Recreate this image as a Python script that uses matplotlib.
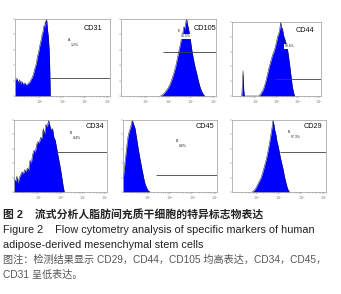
import numpy as np
import matplotlib
matplotlib.use("Agg")
import matplotlib.pyplot as plt
from matplotlib.ticker import FixedLocator

plt.rcParams['font.family'] = ['Liberation Sans', 'Noto Sans CJK SC', 'DejaVu Sans']

# histogram data: x in log10 decades, y as % of max count
cd31_x = [-0.1, -0.02, 0.05, 0.1, 0.15, 0.2, 0.27, 0.33, 0.4, 0.47, 0.55, 0.6, 0.66, 0.72, 0.78, 0.84,
          0.9, 0.95, 1.0, 1.05, 1.1, 1.14, 1.18, 1.21, 1.24, 1.27, 1.3, 1.33, 1.37, 1.41, 1.44, 1.46]
cd31_y = [20, 23, 17, 21, 16, 19, 15, 17, 14, 16, 18, 21, 24, 29, 36, 42,
          52, 58, 66, 72, 80, 84, 91, 89, 97, 93, 100, 88, 78, 60, 30, 0]

cd105_x = [1.65, 1.75, 1.85, 1.95, 2.05, 2.15, 2.25, 2.33, 2.4, 2.47, 2.53, 2.58, 2.63, 2.68, 2.72,
           2.76, 2.8, 2.84, 2.88, 2.93, 2.98, 3.04, 3.1, 3.17, 3.24, 3.31, 3.38, 3.45, 3.52, 3.6]
cd105_y = [0, 2, 5, 9, 14, 22, 31, 40, 50, 60, 68, 76, 82, 90, 87,
           95, 100, 93, 88, 80, 70, 58, 48, 38, 30, 21, 13, 7, 3, 0]

cd44_x = [0.36, 0.39, 0.42, 0.45, 0.48, 1.18, 1.28, 1.38, 1.48, 1.58, 1.66, 1.74, 1.82, 1.88, 1.94,
          2.0, 2.05, 2.1, 2.15, 2.2, 2.24, 2.28, 2.33, 2.38, 2.44, 2.5, 2.56, 2.62, 2.68, 2.74, 2.8, 2.86]
cd44_y = [0, 15, 34, 10, 0, 0, 4, 9, 18, 30, 40, 48, 56, 60, 66,
          73, 80, 84, 90, 100, 88, 92, 82, 78, 72, 66, 55, 42, 28, 14, 5, 0]

cd34_x = [-0.1, -0.03, 0.03, 0.08, 0.14, 0.2, 0.26, 0.32, 0.38, 0.44, 0.5, 0.56, 0.62, 0.68, 0.74,
          0.8, 0.86, 0.92, 0.98, 1.04, 1.1, 1.16, 1.22, 1.28, 1.34, 1.4, 1.46, 1.52, 1.58, 1.64,
          1.7, 1.76, 1.82, 1.88, 1.94, 2.0, 2.06, 2.12, 2.17]
cd34_y = [19, 14, 22, 12, 20, 24, 28, 25, 31, 28, 33, 30, 44, 40, 52,
          58, 55, 66, 70, 68, 76, 74, 88, 80, 94, 90, 100, 92, 86, 88,
          76, 72, 62, 52, 42, 32, 20, 8, 0]

cd45_x = [-0.1, -0.05, 0.0, 0.04, 0.08, 0.12, 0.16, 0.2, 0.24, 0.28, 0.32, 0.36, 0.4, 0.44,
          0.48, 0.52, 0.57, 0.62, 0.67, 0.72, 0.77, 0.82, 0.88, 0.94, 1.0, 1.06, 1.11]
cd45_y = [16, 30, 44, 55, 66, 76, 82, 86, 90, 96, 100, 95, 92, 88,
          80, 72, 62, 53, 44, 36, 28, 20, 12, 7, 3, 1, 0]

cd29_x = [0.8, 0.88, 0.96, 1.04, 1.12, 1.2, 1.28, 1.35, 1.42, 1.48, 1.54, 1.6, 1.65, 1.69, 1.73,
          1.77, 1.81, 1.86, 1.91, 1.96, 2.01, 2.06, 2.12, 2.18, 2.24, 2.3, 2.36, 2.42, 2.47]
cd29_y = [0, 2, 5, 10, 15, 20, 28, 36, 44, 52, 62, 72, 82, 90, 100,
          94, 86, 80, 70, 64, 56, 48, 40, 32, 22, 14, 7, 2, 0]

markers = ["CD31", "CD105", "CD44", "CD34", "CD45", "CD29"]
gate_level = [23, 57, 23, 56, 24, 56]
gate_start = [1.45, 1.76, 1.93, 1.80, 1.37, 2.04]
gate_letter = ["A", "E", "D", "B", "B", "B"]
gate_pct = ["1.2%", "98.5%", "99.6%", "0.4%", "0.6%", "97.3%"]

hist_x = [cd31_x, cd105_x, cd44_x, cd34_x, cd45_x, cd29_x]
hist_y = [cd31_y, cd105_y, cd44_y, cd34_y, cd45_y, cd29_y]

# layout in pixels (left, top, right, bottom)
W, H = 341, 294
boxes = [(15, 19, 110, 96), (121, 19, 216, 96), (232, 22, 321, 96),
         (14, 120, 107, 192), (123, 120, 217, 192), (232, 120, 326, 192)]
label_pos = [(2.25, 72), (2.42, 83), (2.26, 73), (2.43, 80), (2.27, 69), (2.40, 82)]
title_pos = [(0.82, 0.88), (0.88, 0.88), (0.82, 0.88), (0.87, 0.91), (0.87, 0.91), (0.86, 0.91)]

fig = plt.figure(figsize=(W / 100, H / 100), dpi=100)

minor = [d + np.log10(m) for d in range(0, 4) for m in range(2, 10)]

for i in range(6):
    l, t, r, b = boxes[i]
    ax = fig.add_axes([l / W, 1 - b / H, (r - l) / W, (b - t) / H])
    ax.fill_between(hist_x[i], hist_y[i], 0, color="#0000ff", linewidth=0)
    ax.plot(hist_x[i], hist_y[i], color="#151545", linewidth=0.35)
    ax.set_xlim(-0.1, 4.1)
    ax.set_ylim(0, 100)
    ax.hlines(gate_level[i], gate_start[i], 4.1, color="#404040", linewidth=0.6)
    lx, ly = label_pos[i]
    ax.text(lx, ly, gate_letter[i], fontsize=2.5, color="#222222")
    box = dict(facecolor="white", edgecolor="none", pad=0.3) if i in (1, 2) else None
    ax.text(lx + 0.13, ly - 7, gate_pct[i], fontsize=2.5, color="#222222", bbox=box)
    tx, ty = title_pos[i]
    ax.text(tx, ty, markers[i], transform=ax.transAxes, fontsize=5.2,
            ha="center", va="center", color="#111111")
    ax.set_xticks([1, 2, 3, 4])
    ax.set_xticklabels(["$10^1$", "$10^2$", "$10^3$", "$10^4$"], fontsize=2.4, color="#666666")
    ax.xaxis.set_minor_locator(FixedLocator(minor))
    ax.set_yticks([0, 20, 40, 60, 80, 100])
    ax.set_yticklabels([])
    ax.tick_params(which="both", length=1.2, width=0.3, colors="#777777", pad=0.5)
    ax.tick_params(which="minor", length=0.7)
    for s in ax.spines.values():
        s.set_linewidth(0.5)
        s.set_color("#999999")

fs = 7.8
fig.text(3 / W, 1 - 214 / H, "图 2    流式分析人脂肪间充质干细胞的特异标志物表达", fontsize=fs,
         va="center", fontweight="bold", color="#222222")
fig.text(3 / W, 1 - 230 / H, "Figure 2    Flow cytometry analysis of specific markers of human",
         fontsize=fs, va="center", color="#222222")
fig.text(3 / W, 1 - 245 / H, "adipose-derived mesenchymal stem cells",
         fontsize=fs, va="center", color="#222222")
fig.text(3 / W, 1 - 260 / H, "图注：检测结果显示 CD29，CD44，CD105 均高表达，CD34，CD45，",
         fontsize=7.3, va="center", color="#555555")
fig.text(3 / W, 1 - 275 / H, "CD31 呈低表达。", fontsize=7.3, va="center", color="#555555")

fig.savefig("out.png", dpi=100)
